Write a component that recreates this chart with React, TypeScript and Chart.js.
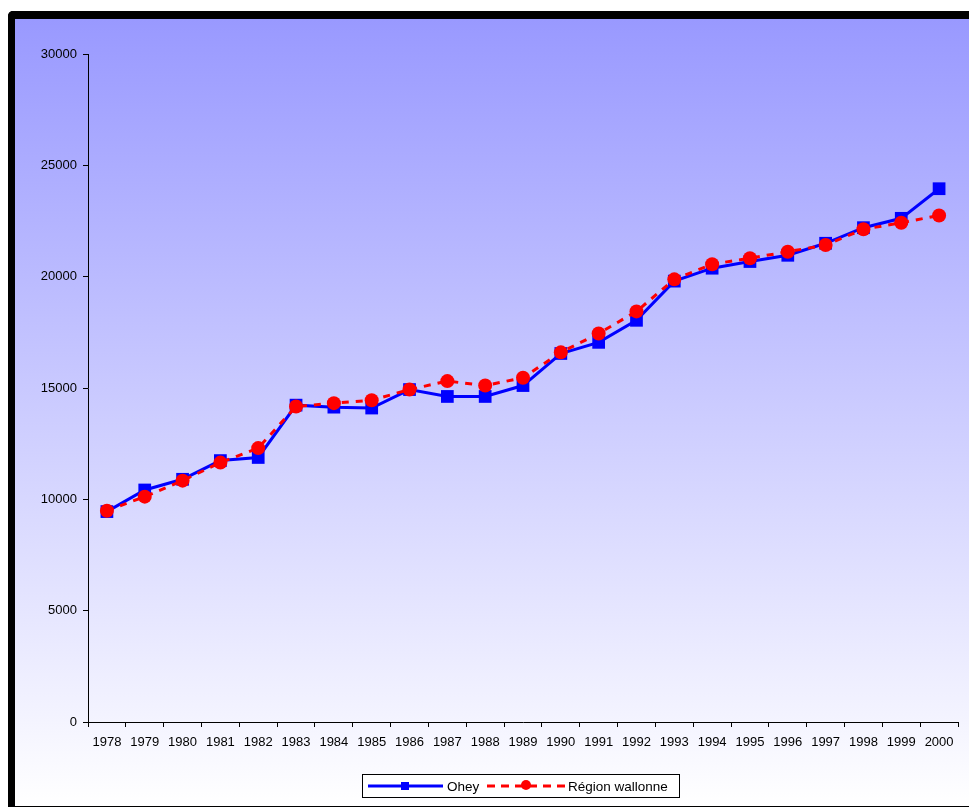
import React, { useEffect, useRef } from "react";
import { Chart, registerables } from "chart.js";

Chart.register(...registerables);

const years = [
  "1978", "1979", "1980", "1981", "1982", "1983", "1984", "1985", "1986", "1987", "1988", "1989",
  "1990", "1991", "1992", "1993", "1994", "1995", "1996", "1997", "1998", "1999", "2000",
];

const oheyValues = [
  9450, 10420, 10900, 11740, 11880, 14230, 14140, 14100, 14930, 14620, 14620, 15110,
  16550, 17050, 18040, 19800, 20380, 20680, 20960, 21500, 22200, 22620, 23950,
];

const wallonneValues = [
  9490, 10120, 10840, 11650, 12300, 14170, 14320, 14450, 14930, 15310, 15110, 15460,
  16600, 17450, 18440, 19880, 20560, 20830, 21120, 21420, 22130, 22420, 22750,
];

const yTicks = [0, 5000, 10000, 15000, 20000, 25000, 30000];

const FONT = "'Liberation Sans', Arial, sans-serif";

const legendPlugin = {
  id: "boxLegend",
  afterDraw(chart: any) {
    const ctx = chart.ctx;
    const ds = chart.data.datasets;
    ctx.save();
    const bx = 362.5, by = 774.5, bw = 317, bh = 23;
    ctx.fillStyle = "#ffffff";
    ctx.fillRect(bx, by, bw, bh);
    ctx.strokeStyle = "#000000";
    ctx.lineWidth = 1;
    ctx.strokeRect(bx, by, bw, bh);
    const cy = by + bh / 2;
    // Ohey
    const o = ds[0];
    ctx.strokeStyle = o.borderColor;
    ctx.lineWidth = 3;
    ctx.setLineDash([]);
    ctx.beginPath();
    ctx.moveTo(368, cy);
    ctx.lineTo(443, cy);
    ctx.stroke();
    ctx.fillStyle = o.pointBackgroundColor;
    ctx.fillRect(401, cy - 4, 8, 8);
    ctx.fillStyle = "#000";
    ctx.font = "13.5px " + FONT;
    ctx.textBaseline = "middle";
    ctx.textAlign = "left";
    ctx.fillText(o.label, 447, cy + 1);
    // Région wallonne
    const r = ds[1];
    ctx.strokeStyle = r.borderColor;
    ctx.lineWidth = 3;
    ctx.setLineDash([8, 6]);
    ctx.beginPath();
    ctx.moveTo(487, cy);
    ctx.lineTo(567, cy);
    ctx.stroke();
    ctx.setLineDash([]);
    ctx.fillStyle = r.pointBackgroundColor;
    ctx.beginPath();
    ctx.arc(526, cy - 1, 5, 0, Math.PI * 2);
    ctx.fill();
    ctx.fillStyle = "#000";
    ctx.fillText(r.label, 568, cy + 1);
    ctx.restore();
  },
};

export default function App() {
  const canvasRef = useRef<HTMLCanvasElement>(null);

  useEffect(() => {
    document.body.style.margin = "0";
    const canvas = canvasRef.current;
    if (!canvas) return;
    const chart = new Chart(canvas, {
      type: "line",
      data: {
        labels: years,
        datasets: [
          {
            label: "Ohey",
            data: oheyValues,
            borderColor: "#0000FF",
            backgroundColor: "#0000FF",
            pointBackgroundColor: "#0000FF",
            pointBorderColor: "#0000FF",
            borderWidth: 3,
            pointStyle: "rect",
            pointRadius: 9,
            pointBorderWidth: 0,
            tension: 0,
            order: 1,
          } as any,
          {
            label: "Région wallonne",
            data: wallonneValues,
            borderColor: "#FF0000",
            backgroundColor: "#FF0000",
            pointBackgroundColor: "#FF0000",
            pointBorderColor: "#FF0000",
            borderWidth: 3,
            borderDash: [7, 7],
            pointStyle: "circle",
            pointRadius: 7,
            pointBorderWidth: 0,
            tension: 0,
            order: 0,
          } as any,
        ],
      },
      options: {
        responsive: false,
        animation: false,
        events: [],
        layout: { padding: { top: 54, left: 0, right: 11, bottom: 56 } },
        plugins: {
          legend: { display: false },
          tooltip: { enabled: false },
          title: { display: false },
        },
        scales: {
          x: {
            type: "category",
            offset: true,
            grid: {
              offset: true,
              drawOnChartArea: false,
              drawTicks: true,
              tickLength: 5,
              color: "#000",
            },
            border: { color: "#000", width: 1 },
            ticks: {
              color: "#000",
              font: { family: FONT, size: 13 },
              maxRotation: 0,
              autoSkip: false,
              padding: 8,
            },
            afterFit: (s: any) => {
              s.height = 30;
            },
          },
          y: {
            min: 0,
            max: 30000,
            afterBuildTicks: (s: any) => {
              s.ticks = yTicks.map((v) => ({ value: v }));
            },
            grid: {
              drawOnChartArea: false,
              drawTicks: true,
              tickLength: 5,
              color: "#000",
            },
            border: { color: "#000", width: 1 },
            ticks: {
              color: "#000",
              font: { family: FONT, size: 13 },
              padding: 6,
              callback: (v: any) => String(v),
            },
            afterFit: (s: any) => {
              s.width = 88;
            },
          },
        },
      },
      plugins: [legendPlugin],
    });
    return () => chart.destroy();
  }, []);

  return (
    <div style={{ position: "absolute", left: 0, top: 0, width: 969, height: 808, overflow: "hidden", background: "#fff" }}>
      <div
        style={{
          position: "absolute",
          left: 8,
          top: 11,
          width: 1000,
          height: 787,
          borderLeft: "7px solid #000",
          borderTop: "8px solid #000",
          borderBottom: "1px solid #000",
          borderTopLeftRadius: 5,
          background: "linear-gradient(to bottom, #9999FF 0%, #FFFFFF 100%)",
        }}
      />
      <canvas ref={canvasRef} width={969} height={808} style={{ position: "absolute", left: 0, top: 0 }} />
    </div>
  );
}
